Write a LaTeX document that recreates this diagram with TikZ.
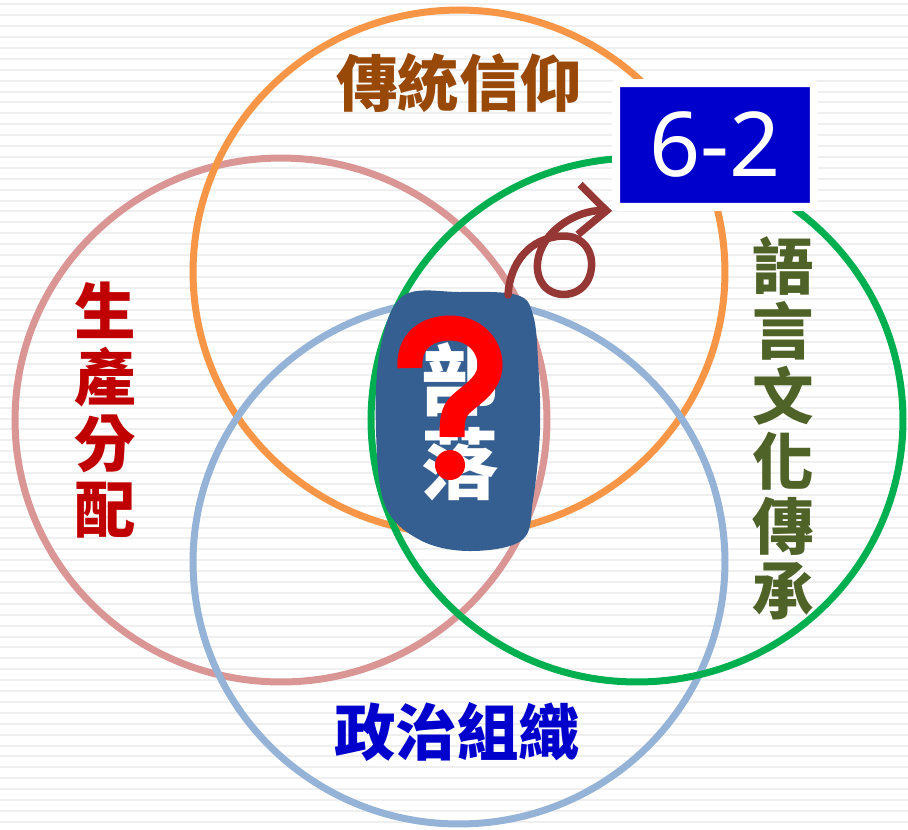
\documentclass[tikz,border=0pt]{standalone}
\usepackage{fontspec}
\usepackage{tikz}
\usetikzlibrary{positioning}
\usetikzlibrary{arrows.meta,shadows}
\newfontfamily\cjk{Noto Sans CJK TC}
\newfontfamily\numfont{Noto Sans}
\definecolor{stripegray}{HTML}{EFEFEF}
\definecolor{orangering}{HTML}{F79646}
\definecolor{pinkring}{HTML}{D99694}
\definecolor{greenring}{HTML}{00B050}
\definecolor{bluering}{HTML}{95B3D7}
\definecolor{titlebrown}{HTML}{984807}
\definecolor{redtext}{HTML}{C00000}
\definecolor{olivetext}{HTML}{4F6228}
\definecolor{bluetext}{HTML}{0000CC}
\definecolor{blobblue}{HTML}{365F91}
\definecolor{curlred}{HTML}{953735}
\definecolor{qred}{HTML}{FF0000}

\begin{document}
\begin{tikzpicture}[x=0.02cm,y=-0.02cm,
    ring/.style={line width=0.14cm},
    cjklabel/.style={align=center,inner sep=0pt,
      font=\cjk\bfseries\fontsize{35}{37.5}\selectfont},
    chapterbox/.style={fill=bluetext,draw=white,line width=0.16cm,
      minimum width=3.96cm,minimum height=2.48cm,inner sep=0pt,
      rounded corners=1.5pt,text=white,
      drop shadow={opacity=0.35,shadow xshift=1.5pt,shadow yshift=-1.5pt},
      font=\numfont\fontsize{51}{51}\selectfont},
    curl/.style={draw=curlred,line width=0.15cm,line cap=round,line join=round,
      -{Straight Barb[length=0.55cm,width=1cm]}},
    qmark/.style={draw=qred,line width=0.5cm}]

  \useasboundingbox (0,0) rectangle (908,829);
  \fill[white] (0,0) rectangle (908,829);
  \foreach \y in {3.3,14.2,...,829}
    \fill[stripegray] (0,\y) rectangle (908,\y+2);

  % the four rings
  \coordinate (pinkc) at (281,420);
  \coordinate (orangec) at (459,272);
  \coordinate (bluec) at (459,562);
  \coordinate (greenc) at (637,420);
  \draw[ring,pinkring] (pinkc) ellipse [x radius=5.32cm,y radius=5.24cm];
  \draw[ring,orangering] (orangec) ellipse [x radius=5.32cm,y radius=5.24cm];
  \draw[ring,bluering] (bluec) ellipse [x radius=5.32cm,y radius=5.24cm];
  \draw[ring,greenring] (greenc) ellipse [x radius=5.32cm,y radius=5.24cm];

  \node[cjklabel,text=titlebrown] (belief) at (459,83) {傳統信仰};
  \node[cjklabel,text=redtext] (produce) at (105,410) {生\\產\\分\\配};
  \node[cjklabel,text=olivetext,font=\cjk\bfseries\fontsize{35}{37}\selectfont]
    (language) at (783,428) {語\\言\\文\\化\\傳\\承};
  \node[cjklabel,text=bluetext] (politics) at (457,732) {政治組織};

  % tribe patch
  \fill[blobblue] plot[smooth cycle,tension=0.6] coordinates
    {(403,296) (460,292) (517,295) (533,315) (538,360) (540,430) (533,500)
     (522,540) (470,551) (420,540) (385,505) (376,430) (380,350)};
  \node[cjklabel,text=white,font=\cjk\bfseries\fontsize{44}{48}\selectfont]
    (tribe) at (460,422) {部\\落};

  % question mark
  \coordinate (qtop) at (410,368);
  \coordinate (qdot) at (450,465);
  \draw[qmark] (qtop) .. controls (408,340) and (428,328) .. (450,328)
    .. controls (474,328) and (490,345) .. (490,365)
    .. controls (490,385) and (470,395) .. (460,405)
    .. controls (453,412) and (452,420) .. (452,437);
  \fill[qred] (qdot) circle [radius=0.3cm];

  \node[chapterbox] (chapter) at (715,145) {6-2};

  \coordinate (curlstart) at (508,295);
  \draw[curl] (curlstart) .. controls (510,262) and (530,238) .. (562,236)
    .. controls (585,235) and (596,255) .. (590,275)
    .. controls (584,295) and (560,300) .. (546,288)
    .. controls (530,272) and (538,245) .. (555,230)
    .. controls (570,216) and (590,210) .. (chapter.south west);

\end{tikzpicture}
\end{document}
